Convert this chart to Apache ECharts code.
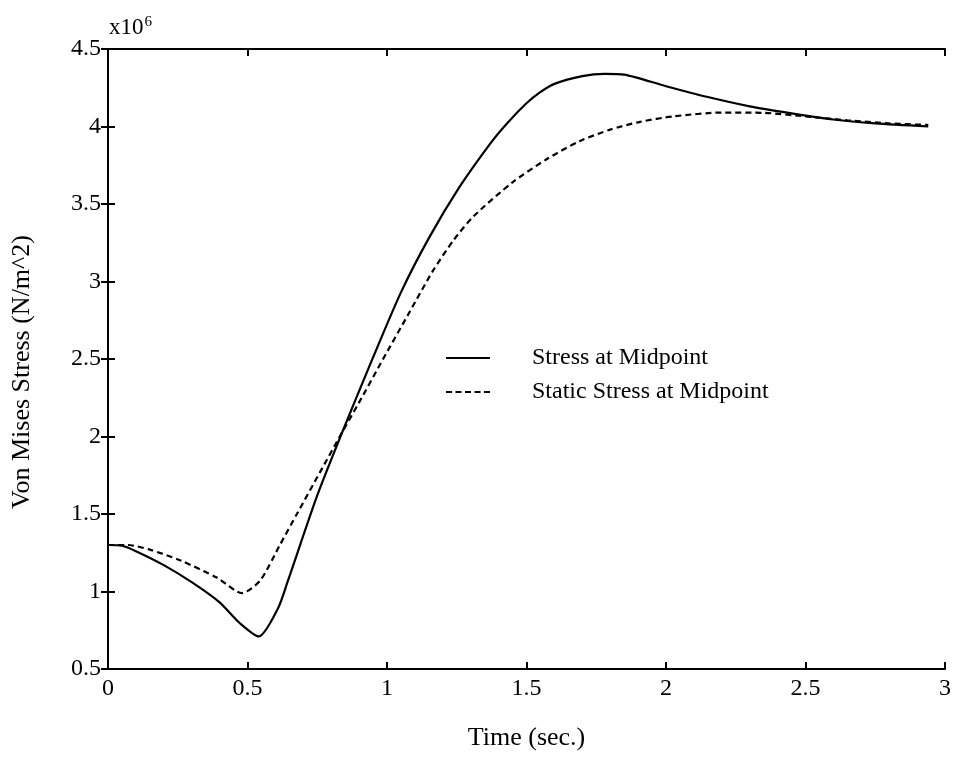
<!DOCTYPE html>
<html>
<head>
<meta charset="utf-8">
<script src="https://cdn.jsdelivr.net/npm/echarts@6/dist/echarts.min.js"></script>
<style>
  html, body { margin: 0; padding: 0; background: #fff; }
  #chart { width: 957px; height: 759px; }
</style>
</head>
<body>
<div id="chart"></div>
<script>
// Von Mises stress at the midpoint versus time (values in units of 10^6 N/m^2)
const timeStress = [0, 0.05, 0.1, 0.2, 0.3, 0.4, 0.47, 0.54, 0.61, 0.645, 0.75, 0.84, 0.95, 1.05, 1.15, 1.26, 1.37, 1.43, 1.5, 1.548, 1.6, 1.7, 1.78, 1.85, 2.0, 2.15, 2.3, 2.45, 2.6, 2.75, 2.94];
const stressMid = [1.30, 1.295, 1.26, 1.17, 1.06, 0.93, 0.80, 0.71, 0.894, 1.07, 1.62, 2.03, 2.51, 2.93, 3.28, 3.61, 3.89, 4.02, 4.15, 4.22, 4.275, 4.325, 4.34, 4.335, 4.26, 4.19, 4.13, 4.085, 4.045, 4.02, 4.00];

const timeStatic = [0, 0.07, 0.15, 0.26, 0.39, 0.48, 0.545, 0.616, 0.677, 0.76, 0.84, 0.9, 0.986, 1.08, 1.165, 1.24, 1.31, 1.45, 1.573, 1.69, 1.8, 1.907, 2.025, 2.2, 2.35, 2.5, 2.65, 2.8, 2.94];
const staticMid = [1.30, 1.30, 1.27, 1.20, 1.09, 0.99, 1.07, 1.30, 1.50, 1.77, 2.03, 2.22, 2.50, 2.80, 3.07, 3.27, 3.42, 3.64, 3.79, 3.905, 3.98, 4.03, 4.065, 4.09, 4.088, 4.065, 4.04, 4.02, 4.01];

const seriesNames = ['Stress at Midpoint', 'Static Stress at Midpoint'];
const yTickLabels = ['0.5', '1', '1.5', '2', '2.5', '3', '3.5', '4', '4.5'];
const xTickLabels = ['0', '0.5', '1', '1.5', '2', '2.5', '3'];
const xTitle = 'Time (sec.)';
const yTitle = 'Von Mises Stress (N/m^2)';

const pairs = (xs, ys) => xs.map((x, i) => [x, ys[i]]);
const FONT = 'Liberation Serif';

// legend glyphs: a solid bar and a row of dashes
const solidIcon = 'path://M0,0H44V2H0Z';
const dashedIcon = 'path://M0,0H6V2H0Z M9.5,0H15.5V2H9.5Z M19,0H25V2H19Z M28.5,0H34.5V2H28.5Z M38,0H44V2H38Z';

const axisLine = { show: true, lineStyle: { color: '#000', width: 2 } };
const axisTick = { show: true, inside: true, length: 7, lineStyle: { color: '#000', width: 2 } };

const chart = echarts.init(document.getElementById('chart'), null, { renderer: 'canvas' });
chart.setOption({
  backgroundColor: '#fff',
  animation: false,
  grid: { left: 108, top: 49, right: 12, bottom: 90, containLabel: false },
  title: {
    text: 'x10{sup|6}',
    left: 104, top: 10,
    textStyle: {
      fontFamily: FONT, fontSize: 23, fontWeight: 'normal', color: '#000',
      rich: { sup: { fontFamily: FONT, fontSize: 15, verticalAlign: 'top', padding: [0, 0, 10, 1], color: '#000' } }
    }
  },
  legend: {
    orient: 'vertical',
    left: 441, top: 341,
    itemWidth: 44, itemHeight: 2, itemGap: 10,
    data: [
      { name: seriesNames[0], icon: solidIcon },
      { name: seriesNames[1], icon: dashedIcon }
    ],
    itemStyle: { color: '#000', borderWidth: 0 },
    lineStyle: { width: 0 },
    textStyle: { fontFamily: FONT, fontSize: 24, color: '#000', padding: [0, 0, 0, 37] }
  },
  graphic: [
    {
      type: 'text', x: 22, y: 372, rotation: Math.PI / 2,
      style: { text: yTitle, fontFamily: FONT, fontSize: 26, fill: '#000', align: 'center', verticalAlign: 'middle' }
    }
  ],
  xAxis: [
    {
      type: 'value', min: 0, max: 3, interval: 0.5, position: 'bottom',
      name: xTitle, nameLocation: 'middle', nameGap: 56,
      nameTextStyle: { fontFamily: FONT, fontSize: 26, color: '#000' },
      axisLine, axisTick, splitLine: { show: false },
      axisLabel: { fontFamily: FONT, fontSize: 24, color: '#000', margin: 8,
        formatter: v => xTickLabels[Math.round(v / 0.5)] }
    },
    {
      type: 'value', min: 0, max: 3, interval: 0.5, position: 'top',
      axisLine, axisTick, splitLine: { show: false }, axisLabel: { show: false }
    }
  ],
  yAxis: [
    {
      type: 'value', min: 0.5, max: 4.5, interval: 0.5, position: 'left',
      axisLine, axisTick, splitLine: { show: false },
      axisLabel: { fontFamily: FONT, fontSize: 24, color: '#000', margin: 7,
        formatter: v => yTickLabels[Math.round((v - 0.5) / 0.5)] }
    },
    {
      type: 'value', min: 0.5, max: 4.5, interval: 0.5, position: 'right',
      axisLine, axisTick, splitLine: { show: false }, axisLabel: { show: false }
    }
  ],
  series: [
    {
      name: seriesNames[0], type: 'line', xAxisIndex: 0, yAxisIndex: 0,
      showSymbol: false, symbol: 'none', smooth: 0.25,
      lineStyle: { color: '#000', width: 2.2, type: 'solid' },
      itemStyle: { color: '#000' },
      data: pairs(timeStress, stressMid)
    },
    {
      name: seriesNames[1], type: 'line', xAxisIndex: 0, yAxisIndex: 0,
      showSymbol: false, symbol: 'none', smooth: 0.25,
      lineStyle: { color: '#000', width: 2.2, type: [6, 4] },
      itemStyle: { color: '#000' },
      data: pairs(timeStatic, staticMid)
    }
  ]
});
</script>
</body>
</html>
